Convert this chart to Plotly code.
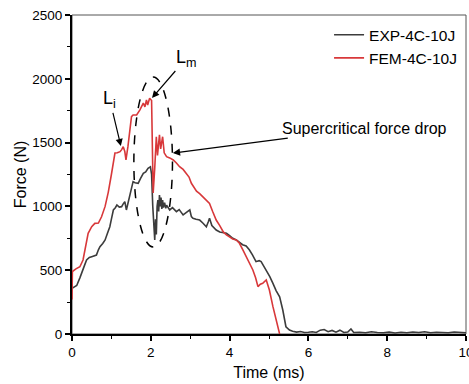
import plotly.graph_objects as go

# EXP-4C-10J (experiment)
exp_t = [0.0, 0.05, 0.12, 0.2, 0.25, 0.32, 0.37, 0.44, 0.5, 0.56, 0.62, 0.67, 0.71, 0.78, 0.84, 0.9,
         0.96, 1.0, 1.05, 1.1, 1.14, 1.2, 1.26, 1.3, 1.34, 1.38, 1.42, 1.47, 1.52, 1.55, 1.6, 1.68,
         1.74, 1.81, 1.87, 1.93, 1.99, 2.02, 2.05, 2.08, 2.1, 2.12, 2.14, 2.16, 2.18, 2.2,
         2.22, 2.24, 2.26, 2.28, 2.3, 2.32, 2.35, 2.38, 2.4, 2.48, 2.55, 2.65, 2.72,
         2.82, 2.9, 2.99, 3.03, 3.07, 3.15, 3.24, 3.32, 3.41, 3.46, 3.49, 3.55, 3.66, 3.75, 3.85,
         3.92, 4.0, 4.08, 4.17, 4.25, 4.33, 4.42, 4.5, 4.58, 4.67, 4.75, 4.8, 4.87, 4.93, 5.02,
         5.1, 5.18, 5.27, 5.35, 5.43, 5.52, 5.6, 5.7, 5.8, 5.9, 6.0, 6.1, 6.2, 6.3, 6.4, 6.5,
         6.6, 6.7, 6.8, 6.9, 7.0, 7.08, 7.15, 7.3, 7.45, 7.6, 7.75, 7.9, 8.05, 8.2, 8.35, 8.5,
         8.65, 8.8, 8.95, 9.1, 9.25, 9.4, 9.55, 9.7, 9.85, 10.0]
exp_f = [358, 365, 380, 440, 476, 540, 580, 600, 606, 612, 619, 660, 684, 710, 737, 790,
         841, 900, 972, 990, 1011, 995, 998, 1020, 1037, 972, 1030, 1089, 1160, 1194, 1185, 1181,
         1220, 1259, 1270, 1299, 1311, 1250, 1000, 850, 737, 900, 780, 1000, 1050, 960,
         1089, 1000, 1070, 980, 1050, 990, 1030, 985, 1010, 972, 990, 959, 975,
         933, 950, 972, 920, 907, 900, 893, 870, 841, 880, 907, 850, 815, 800, 790,
         789, 770, 750, 737, 720, 700, 690, 660, 620, 567, 575, 567, 530, 502, 450,
         397, 340, 292, 188, 57, 31, 22, 15, 20, 12, 14, 18, 12, 30, 35, 18,
         28, 14, 30, 12, 15, 40, 12, 14, 10, 18, 12, 10, 15, 8, 14, 10,
         16, 12, 18, 10, 14, 12, 10, 16, 12, 10]

# FEM-4C-10J (simulation)
fem_t = [0.0, 0.01, 0.1, 0.2, 0.28, 0.33, 0.41, 0.5, 0.58, 0.67, 0.75, 0.84, 0.92, 1.0, 1.05,
         1.09, 1.15, 1.22, 1.26, 1.3, 1.34, 1.37, 1.42, 1.47, 1.51, 1.55, 1.64, 1.72, 1.81,
         1.85, 1.89, 1.92, 1.97, 2.02, 2.06, 2.1, 2.14, 2.17, 2.19, 2.22, 2.25, 2.3, 2.34,
         2.4, 2.48, 2.57, 2.65, 2.73, 2.82, 2.9, 2.97, 3.03, 3.1, 3.16, 3.24, 3.32, 3.4,
         3.49, 3.57, 3.66, 3.75, 3.84, 3.92, 4.0, 4.08, 4.17, 4.25, 4.34, 4.42, 4.5, 4.59,
         4.66, 4.72, 4.78, 4.84, 4.93, 5.01, 5.1, 5.16, 5.22, 5.27]
fem_f = [270, 490, 510, 527, 580, 650, 789, 841, 867, 870, 919, 1000, 1110, 1250, 1350,
         1418, 1420, 1429, 1445, 1468, 1430, 1364, 1470, 1600, 1703, 1716, 1716, 1755, 1810,
         1780, 1834, 1795, 1847, 1830, 1105, 1300, 1546, 1400, 1480, 1560, 1450, 1546, 1420,
         1390, 1380, 1364, 1340, 1311, 1290, 1259, 1230, 1181, 1150, 1120, 1100, 1076, 1050,
         1024, 960, 893, 850, 800, 776, 760, 745, 737, 711, 658, 606, 554, 502,
         440, 371, 390, 397, 423, 345, 214, 130, 57, 0]

FONT = "Liberation Sans, Arial, sans-serif"

fig = go.Figure()
fig.add_trace(go.Scatter(x=exp_t, y=exp_f, mode="lines", name="EXP-4C-10J",
                         line=dict(color="#3c3c3c", width=1.6)))
fig.add_trace(go.Scatter(x=fem_t, y=fem_f, mode="lines", name="FEM-4C-10J",
                         line=dict(color="#d8383a", width=1.6)))

# dashed ellipse
fig.add_shape(type="circle", xref="x", yref="y", x0=1.57, x1=2.55, y0=682, y1=2014,
              line=dict(color="black", width=1.5, dash="dash"))
# frame (top/right)
fig.add_shape(type="rect", xref="paper", yref="paper", x0=0, x1=1, y0=0, y1=1,
              line=dict(color="#555555", width=1), layer="below")

arrow = dict(showarrow=True, arrowhead=2, arrowsize=1.2, arrowwidth=1.2, arrowcolor="black",
             xref="x", yref="y", axref="x", ayref="y")
fig.add_annotation(x=1.24, y=1473, ax=0.96, ay=1834, text="L<sub>i</sub>",
                   font=dict(family=FONT, size=18, color="black"), **arrow)
fig.add_annotation(x=2.03, y=1850, ax=2.91, ay=2163, text="L<sub>m</sub>",
                   font=dict(family=FONT, size=18, color="black"), **arrow)
fig.add_annotation(x=2.56, y=1418, ax=7.42, ay=1614, text="Supercritical force drop",
                   font=dict(family=FONT, size=16, color="black"), **arrow)

axis_common = dict(showline=True, linecolor="black", linewidth=2, ticks="outside",
                   ticklen=5, tickwidth=1.5, tickcolor="black", showgrid=False, zeroline=False,
                   tickfont=dict(family=FONT, size=13.5, color="black"),
                   mirror=False, ticklabeloverflow="allow")
fig.update_xaxes(range=[0, 10], dtick=2, tick0=0,
                 minor=dict(dtick=1, ticks="outside", ticklen=3, tickcolor="black", tickwidth=1.2),
                 title=dict(text="Time (ms)", font=dict(family=FONT, size=16, color="black"), standoff=8),
                 **axis_common)
fig.update_yaxes(range=[0, 2500], dtick=500, tick0=0,
                 minor=dict(dtick=250, ticks="outside", ticklen=3, tickcolor="black", tickwidth=1.2),
                 title=dict(text="Force (N)", font=dict(family=FONT, size=16, color="black"), standoff=2),
                 **axis_common)

fig.update_layout(
    width=469, height=384,
    margin=dict(l=72, r=3, t=15, b=50, autoexpand=False),
    paper_bgcolor="white", plot_bgcolor="white",
    font=dict(family=FONT, color="black"),
    legend=dict(x=0.99, y=0.99, xanchor="right", yanchor="top", bgcolor="rgba(0,0,0,0)",
                font=dict(family=FONT, size=15.5, color="black"), tracegroupgap=0,
                itemwidth=30),
    showlegend=True,
)

fig.write_html("out.html")
